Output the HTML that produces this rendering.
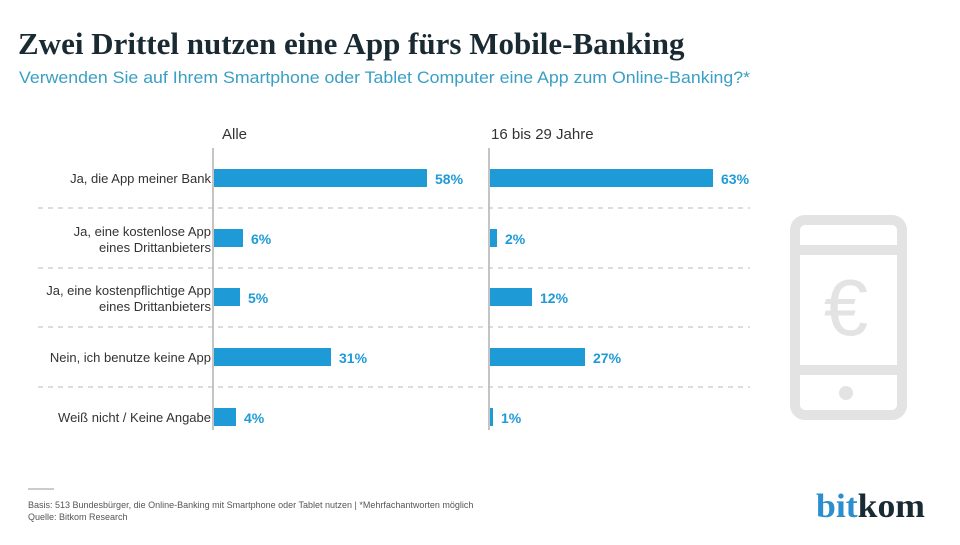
<!DOCTYPE html>
<html><head><meta charset="utf-8"><style>
body{margin:0;width:960px;height:540px;background:#fff;font-family:"Liberation Sans",sans-serif;overflow:hidden}
</style></head><body>
<svg width="960" height="540" xmlns="http://www.w3.org/2000/svg" font-family="Liberation Sans, sans-serif">
<text x="18" y="54" font-family="Liberation Serif, serif" font-weight="bold" font-size="31" fill="#1a2a33">Zwei Drittel nutzen eine App fürs Mobile-Banking</text>
<text x="19" y="83" font-size="17" fill="#3a9fc4" textLength="731" lengthAdjust="spacingAndGlyphs">Verwenden Sie auf Ihrem Smartphone oder Tablet Computer eine App zum Online-Banking?*</text>
<text x="222" y="139" font-size="15" fill="#333">Alle</text>
<text x="491" y="139" font-size="15" fill="#333">16 bis 29 Jahre</text>
<line x1="213" y1="148" x2="213" y2="430" stroke="#888" stroke-width="1"/>
<line x1="489" y1="148" x2="489" y2="430" stroke="#888" stroke-width="1"/>
<g stroke="#bbb" stroke-dasharray="5,5" stroke-width="1">
<line x1="38" y1="208" x2="750" y2="208"/><line x1="38" y1="268" x2="750" y2="268"/>
<line x1="38" y1="327" x2="750" y2="327"/><line x1="38" y1="387" x2="750" y2="387"/>
</g>
<g font-size="13" fill="#333" text-anchor="end">
<text x="211" y="183">Ja, die  App meiner Bank</text>
<text x="211" y="236">Ja, eine kostenlose App</text><text x="211" y="252">eines Drittanbieters</text>
<text x="211" y="295">Ja, eine kostenpflichtige App</text><text x="211" y="311">eines Drittanbieters</text>
<text x="211" y="362">Nein, ich benutze keine App</text>
<text x="211" y="422">Weiß nicht / Keine Angabe</text>
</g>
<g fill="#1e9bd7">
<rect x="214" y="169" width="213" height="18"/>
<rect x="214" y="229" width="29" height="18"/>
<rect x="214" y="288" width="26" height="18"/>
<rect x="214" y="348" width="117" height="18"/>
<rect x="214" y="408" width="22" height="18"/>
<rect x="490" y="169" width="223" height="18"/>
<rect x="490" y="229" width="7" height="18"/>
<rect x="490" y="288" width="42" height="18"/>
<rect x="490" y="348" width="95" height="18"/>
<rect x="490" y="408" width="3" height="18"/>
</g>
<g font-size="14" fill="#1e9bd7" font-weight="bold">
<text x="435" y="184">58%</text><text x="251" y="244">6%</text><text x="248" y="303">5%</text>
<text x="339" y="363">31%</text><text x="244" y="423">4%</text>
<text x="721" y="184">63%</text><text x="505" y="244">2%</text><text x="540" y="303">12%</text>
<text x="593" y="363">27%</text><text x="501" y="423">1%</text>
</g>
<g fill="none" stroke="#e3e3e3" stroke-width="10">
<rect x="795" y="220" width="107" height="195" rx="10"/>
<line x1="795" y1="250" x2="902" y2="250"/>
<line x1="795" y1="370" x2="902" y2="370"/>
</g>
<circle cx="846" cy="393" r="7" fill="#e3e3e3"/>
<text x="846" y="335" font-size="80" fill="#e3e3e3" text-anchor="middle">€</text>
<line x1="28" y1="489" x2="54" y2="489" stroke="#999" stroke-width="1"/>
<text x="28" y="508" font-size="9" fill="#555">Basis: 513 Bundesbürger, die Online-Banking mit Smartphone oder Tablet nutzen | *Mehrfachantworten möglich</text>
<text x="28" y="520" font-size="9" fill="#555">Quelle: Bitkom Research</text>
<text x="816" y="517" font-family="Liberation Serif, serif" font-weight="bold" font-size="34" textLength="109" lengthAdjust="spacingAndGlyphs"><tspan fill="#2a8fcc">bit</tspan><tspan fill="#1a2a33">kom</tspan></text>
</svg>
</body></html>
